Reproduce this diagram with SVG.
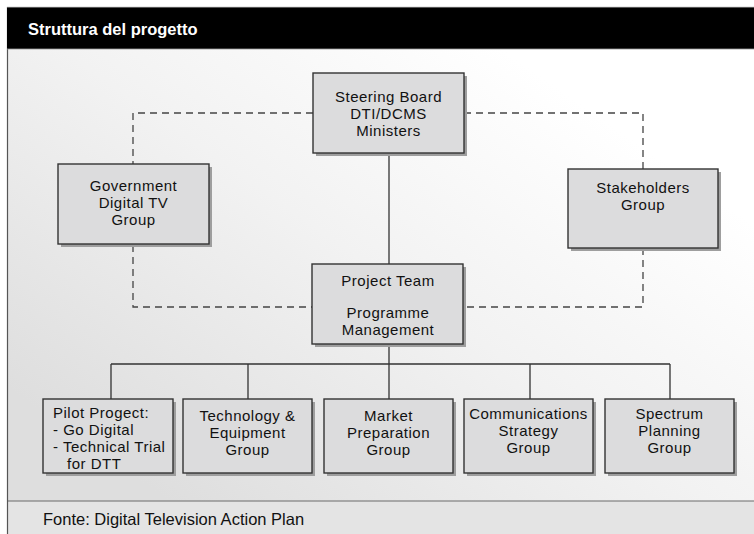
<svg xmlns="http://www.w3.org/2000/svg" width="754" height="534" viewBox="0 0 754 534">
<defs>
<linearGradient id="bg" x1="0" y1="0.75" x2="0.75" y2="0.1">
<stop offset="0" stop-color="#dedede"/>
<stop offset="0.55" stop-color="#f2f2f2"/>
<stop offset="1" stop-color="#ffffff"/>
</linearGradient>
<style>
.box{fill:#dcdcdd;stroke:#333;stroke-width:1.4}
.sh{fill:#9e9e9e}
.t{font-family:"Liberation Sans",Arial,sans-serif;font-size:15px;letter-spacing:0.5px;fill:#111;text-anchor:middle}
.tl{text-anchor:start}
.solid{stroke:#333;stroke-width:1.3;fill:none}
.dash{stroke:#444;stroke-width:1.3;fill:none;stroke-dasharray:7 5}
</style>
</defs>
<rect x="0" y="0" width="754" height="534" fill="#ffffff"/>
<rect x="7" y="49" width="747" height="452" fill="url(#bg)"/>
<rect x="7" y="501" width="747" height="33" fill="#e4e4e4"/>
<line x1="7" y1="501" x2="754" y2="501" stroke="#6a6a6a" stroke-width="1.2"/>
<line x1="7.5" y1="7" x2="7.5" y2="534" stroke="#555" stroke-width="1.2"/>
<rect x="7" y="7" width="747" height="42" fill="#000"/>
<line x1="7" y1="7.3" x2="754" y2="7.3" stroke="#888" stroke-width="0.8"/>
<line x1="7" y1="49" x2="754" y2="49" stroke="#999" stroke-width="0.8"/>
<text x="28" y="34.5" font-family="'Liberation Sans',Arial,sans-serif" font-size="16.5" font-weight="bold" fill="#fff">Struttura del progetto</text>

<g id="connectors">
<path class="dash" d="M313,113 H133 V164 M133,245 V307 H312"/>
<path class="dash" d="M464,113 H643 V169 M643,248 V307 H463"/>
<path class="solid" d="M389,153 V264"/>
<path class="solid" d="M389,344 V364 M111,364 H670 M111,364 V399 M248,364 V399 M389,364 V399 M530,364 V399 M670,364 V399"/>
</g>

<g id="steering">
<rect class="sh" x="316" y="76" width="151" height="80"/>
<rect class="box" x="313" y="73" width="151" height="80"/>
<text class="t" x="388.5" y="102">Steering Board</text>
<text class="t" x="388.5" y="119">DTI/DCMS</text>
<text class="t" x="388.5" y="136">Ministers</text>
</g>

<g id="government">
<rect class="sh" x="61" y="167" width="151" height="80"/>
<rect class="box" x="58" y="164" width="151" height="80"/>
<text class="t" x="133.5" y="191">Government</text>
<text class="t" x="133.5" y="208">Digital TV</text>
<text class="t" x="133.5" y="225">Group</text>
</g>

<g id="stakeholders">
<rect class="sh" x="571" y="172" width="150" height="79"/>
<rect class="box" x="568" y="169" width="150" height="79"/>
<text class="t" x="643" y="192.5">Stakeholders</text>
<text class="t" x="643" y="209.5">Group</text>
</g>

<g id="project">
<rect class="sh" x="315" y="267" width="151" height="80"/>
<rect class="box" x="312" y="264" width="151" height="80"/>
<text class="t" x="388" y="286">Project Team</text>
<text class="t" x="388" y="317.5">Programme</text>
<text class="t" x="388" y="334.5">Management</text>
</g>

<g id="pilot">
<rect class="sh" x="46" y="402" width="130" height="74"/>
<rect class="box" x="43" y="399" width="130" height="74"/>
<text class="t tl" x="53" y="418.3">Pilot Progect:</text>
<text class="t tl" x="53" y="435.3">- Go Digital</text>
<text class="t tl" x="53" y="452.3">- Technical Trial</text>
<text class="t tl" x="67" y="469.3">for DTT</text>
</g>

<g id="technology">
<rect class="sh" x="186" y="402" width="129" height="74"/>
<rect class="box" x="183" y="399" width="129" height="74"/>
<text class="t" x="247.5" y="420.5">Technology &amp;</text>
<text class="t" x="247.5" y="437.5">Equipment</text>
<text class="t" x="247.5" y="454.5">Group</text>
</g>

<g id="market">
<rect class="sh" x="327" y="402" width="129" height="74"/>
<rect class="box" x="324" y="399" width="129" height="74"/>
<text class="t" x="388.5" y="420.5">Market</text>
<text class="t" x="388.5" y="437.5">Preparation</text>
<text class="t" x="388.5" y="454.5">Group</text>
</g>

<g id="communications">
<rect class="sh" x="467" y="402" width="129" height="74"/>
<rect class="box" x="464" y="399" width="129" height="74"/>
<text class="t" x="528.5" y="419">Communications</text>
<text class="t" x="528.5" y="436">Strategy</text>
<text class="t" x="528.5" y="453">Group</text>
</g>

<g id="spectrum">
<rect class="sh" x="608" y="402" width="129" height="74"/>
<rect class="box" x="605" y="399" width="129" height="74"/>
<text class="t" x="669.5" y="419">Spectrum</text>
<text class="t" x="669.5" y="436">Planning</text>
<text class="t" x="669.5" y="453">Group</text>
</g>

<text x="43" y="525" font-family="'Liberation Sans',Arial,sans-serif" font-size="16.5" fill="#111">Fonte: Digital Television Action Plan</text>
</svg>
